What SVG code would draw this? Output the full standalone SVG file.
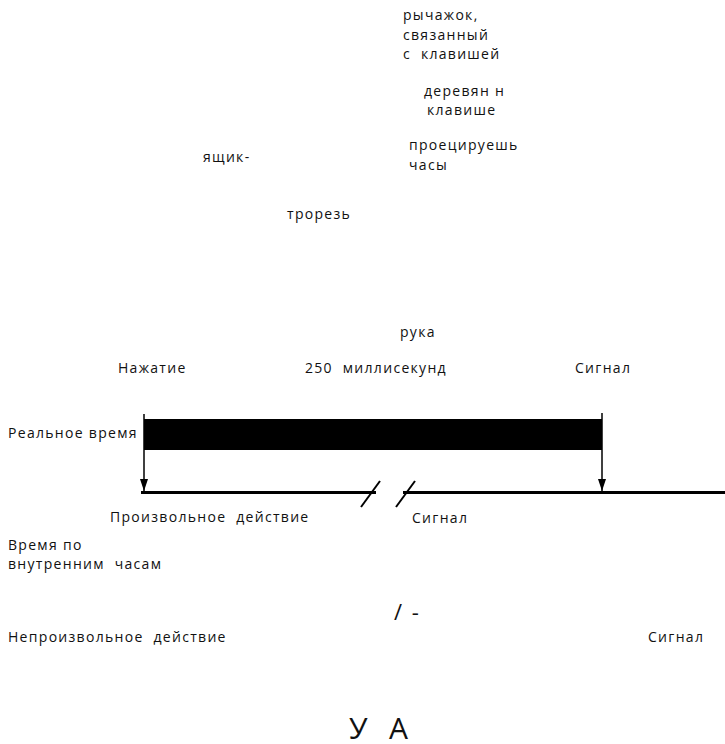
<svg xmlns="http://www.w3.org/2000/svg" width="725" height="744" viewBox="0 0 725 744">
<style>
text{font-family:"Open Sans","Noto Sans","DejaVu Sans",sans-serif;font-size:14px;letter-spacing:1.3px;fill:#111}
text.mid{font-size:22px;letter-spacing:2px}
text.big{font-size:30px;letter-spacing:2px}
.ln{stroke:#000;fill:none}
</style>
<defs>
<marker id="ah" markerWidth="12" markerHeight="8" refX="12" refY="4" orient="auto" markerUnits="userSpaceOnUse" viewBox="0 0 12 8">
<path d="M0,0 L12,4 L0,8 Z" fill="#000"/>
</marker>
</defs>
<rect width="725" height="744" fill="#fff"/>
<g id="labels-top">
<text x="403" y="20">рычажок,</text>
<text x="403" y="40">связанный</text>
<text x="403" y="59">с&#160; клавишей</text>
<text x="424" y="96">деревян н</text>
<text x="427" y="115">клавише</text>
<text x="409" y="150">проецируешь</text>
<text x="409" y="170">часы</text>
<text x="203" y="162" letter-spacing="2.5">ящик-</text>
<text x="287" y="219">трорезь</text>
<text x="400" y="337">рука</text>
</g>
<g id="bar">
<rect x="144" y="419" width="458" height="31" fill="#000"/>
</g>
<g id="connectors">
<line class="ln" x1="144" y1="414" x2="144" y2="491" stroke-width="1.5" marker-end="url(#ah)"/>
<line class="ln" x1="602" y1="413" x2="602" y2="491" stroke-width="1.5" marker-end="url(#ah)"/>
<line class="ln" x1="141" y1="492.5" x2="376" y2="492.5" stroke-width="3"/>
<line class="ln" x1="403" y1="492.5" x2="725" y2="492.5" stroke-width="3"/>
<line class="ln" x1="361" y1="507" x2="380" y2="481" stroke-width="2"/>
<line class="ln" x1="396" y1="507" x2="415" y2="481" stroke-width="2"/>
</g>
<g id="labels-timeline">
<text x="118" y="373">Нажатие</text>
<text x="305" y="373">250&#160; миллисекунд</text>
<text x="575" y="373">Сигнал</text>
<text x="8" y="438">Реальное время</text>
<text x="110" y="522">Произвольное&#160; действие</text>
<text x="412" y="523">Сигнал</text>
<text x="8" y="550">Время по</text>
<text x="8" y="569">внутренним&#160; часам</text>
<text class="mid" x="394" y="620">/ -</text>
<text x="8" y="642">Непроизвольное&#160; действие</text>
<text x="648" y="642">Сигнал</text>
<text class="big" x="349" y="739">У&#160; А</text>
</g>
</svg>
